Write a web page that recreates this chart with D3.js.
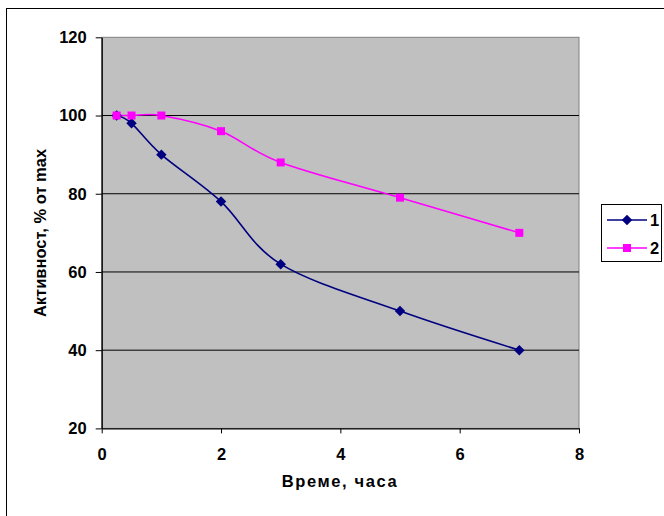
<!DOCTYPE html>
<html>
<head>
<meta charset="utf-8">
<script src="https://cdn.jsdelivr.net/npm/d3@7"></script>
<style>
  html, body { margin: 0; padding: 0; background: #fff; }
  svg { display: block; }
  text { font-family: "Liberation Sans", Arial, sans-serif; font-weight: bold; fill: #000; }
</style>
</head>
<body>
<svg id="chart" width="664" height="516"></svg>
<script>
// Activity over time, two series
const hours = [0.25, 0.5, 1, 2, 3, 5, 7];
const series1 = [100, 98, 90, 78, 62, 50, 40];
const series2 = [100, 100, 100, 96, 88, 79, 70];
const seriesNames = ["1", "2"];
const xTicks = [0, 2, 4, 6, 8];
const yTicks = [20, 40, 60, 80, 100, 120];
const xTitle = "Време, часа";
const yTitle = "Активност, % от max";

const svg = d3.select("#chart");
const plot = { left: 101.7, top: 37.3, right: 579, bottom: 428.4 };

const x = d3.scaleLinear().domain([0, 8]).range([plot.left, plot.right]);
const y = d3.scaleLinear().domain([20, 120]).range([plot.bottom, plot.top]);

// outer frame
svg.append("rect")
  .attr("x", 6.5).attr("y", 8.5).attr("width", 700).attr("height", 600)
  .attr("fill", "none").attr("stroke", "#000").attr("stroke-width", 1);

// plot background
svg.append("rect")
  .attr("x", plot.left).attr("y", plot.top)
  .attr("width", plot.right - plot.left).attr("height", plot.bottom - plot.top)
  .attr("fill", "#C0C0C0").attr("stroke", "#808080").attr("stroke-width", 1);

// horizontal gridlines
svg.append("g").selectAll("line")
  .data(yTicks.filter(d => d > 20 && d < 120))
  .join("line")
  .attr("x1", plot.left).attr("x2", plot.right)
  .attr("y1", d => y(d)).attr("y2", d => y(d))
  .attr("stroke", "#000").attr("stroke-width", 1);

// axes
const yAxis = svg.append("g")
  .attr("transform", `translate(${plot.left},0)`)
  .call(d3.axisLeft(y).tickValues(yTicks).tickSize(6).tickPadding(9).tickSizeOuter(0));
const xAxis = svg.append("g")
  .attr("transform", `translate(0,${plot.bottom})`)
  .call(d3.axisBottom(x).tickValues(xTicks).tickSize(5).tickPadding(15).tickSizeOuter(0));
[yAxis, xAxis].forEach(g => {
  g.select(".domain").attr("stroke", "#000").attr("stroke-width", 1.3);
  g.selectAll(".tick line").attr("stroke", "#000");
  g.selectAll(".tick text")
    .style("font-family", '"Liberation Sans", Arial, sans-serif')
    .style("font-weight", "bold").style("font-size", "16.5px").attr("fill", "#000");
});
xAxis.selectAll(".tick text").attr("dy", "0.71em");

// axis titles
svg.append("text")
  .attr("x", 340).attr("y", 487)
  .attr("text-anchor", "middle").style("font-size", "16.5px")
  .style("letter-spacing", "1.6px")
  .text(xTitle);
svg.append("text")
  .attr("transform", "translate(46,233) rotate(-90)")
  .attr("text-anchor", "middle").style("font-size", "16.5px")
  .text(yTitle);

// series
const line = d3.line()
  .x(d => x(d[0])).y(d => y(d[1]))
  .curve(d3.curveCatmullRom.alpha(0));

const s1 = hours.map((h, i) => [h, series1[i]]);
const s2 = hours.map((h, i) => [h, series2[i]]);

const colors = ["#000080", "#FF00FF"];
const diamond = d3.symbol().type(d3.symbolDiamond2).size(70);

svg.append("path").datum(s1).attr("d", line)
  .attr("fill", "none").attr("stroke", colors[0]).attr("stroke-width", 1.6);
svg.append("path").datum(s2).attr("d", line)
  .attr("fill", "none").attr("stroke", colors[1]).attr("stroke-width", 1.6);

svg.append("g").selectAll("path").data(s1).join("path")
  .attr("transform", d => `translate(${x(d[0])},${y(d[1])})`)
  .attr("d", diamond).attr("fill", colors[0]);

svg.append("g").selectAll("rect").data(s2).join("rect")
  .attr("x", d => x(d[0]) - 4).attr("y", d => y(d[1]) - 4)
  .attr("width", 8).attr("height", 8).attr("fill", colors[1]);

// legend
const legend = svg.append("g");
legend.append("rect")
  .attr("x", 601.5).attr("y", 204.5).attr("width", 60).attr("height", 57)
  .attr("fill", "#fff").attr("stroke", "#000").attr("stroke-width", 1);
const ly = [220, 248];
seriesNames.forEach((name, i) => {
  legend.append("line")
    .attr("x1", 607).attr("x2", 647).attr("y1", ly[i]).attr("y2", ly[i])
    .attr("stroke", colors[i]).attr("stroke-width", 1.6);
  if (i === 0) {
    legend.append("path").attr("transform", `translate(627,${ly[i]})`)
      .attr("d", diamond).attr("fill", colors[i]);
  } else {
    legend.append("rect").attr("x", 623).attr("y", ly[i] - 4)
      .attr("width", 8).attr("height", 8).attr("fill", colors[i]);
  }
  legend.append("text")
    .attr("x", 650).attr("y", ly[i]).attr("dy", "0.36em")
    .style("font-size", "16.5px").text(name);
});
</script>
</body>
</html>
